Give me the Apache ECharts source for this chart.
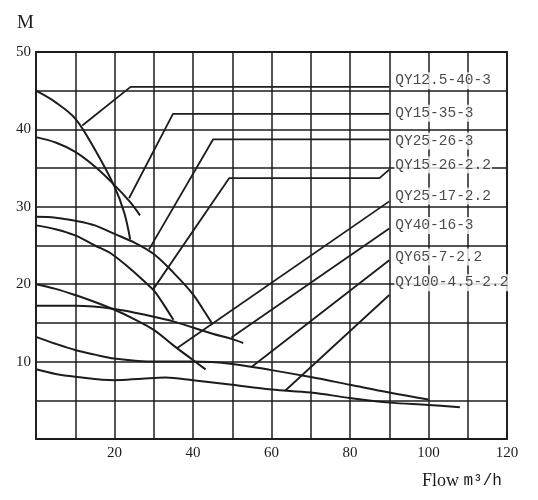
<!DOCTYPE html>
<html>
<head>
<meta charset="utf-8">
<title>QY pump curves</title>
<script src="https://cdn.jsdelivr.net/npm/echarts@6/dist/echarts.min.js"></script>
<style>
  html, body { margin: 0; padding: 0; background: #fff; }
  #chart { width: 538px; height: 500px; }
</style>
</head>
<body>
<div id="chart"></div>
<script>
// pump models, top to bottom
const models = ['QY12.5-40-3', 'QY15-35-3', 'QY25-26-3', 'QY15-26-2.2',
                'QY25-17-2.2', 'QY40-16-3', 'QY65-7-2.2', 'QY100-4.5-2.2'];

// Q-H curves: [flow m3/h, head m]
const curve1 = [[0, 45], [5, 43.5], [10, 41.4], [15, 37.4], [20, 32.6], [22.5, 29.2], [24, 25.8]];
const curve2 = [[0, 39], [5, 38.3], [10, 37.1], [15, 35.2], [20, 32.8], [24, 30.6], [26.5, 28.9]];
const curve3 = [[0, 28.7], [5, 28.6], [10, 28.2], [15, 27.6], [20, 26.5], [25, 25.4], [30, 23.9],
                [35, 21.5], [40, 18.7], [43, 16.4], [45, 14.8]];
const curve4 = [[0, 27.6], [5, 27.1], [10, 26.3], [15, 25.0], [19, 24.0], [24, 22.0], [27.3, 20.5],
                [30, 19.2], [32.5, 17.4], [35, 15.4]];
const curve5 = [[0, 20], [5, 19.4], [10, 18.6], [15, 17.7], [20, 16.7], [25, 15.5], [30, 14.1],
                [35, 12.1], [40, 10.2], [43.2, 9.0]];
const curve6 = [[0, 17.2], [10, 17.2], [20, 16.8], [30, 15.8], [35, 15.2], [40, 14.4], [45, 13.6],
                [50, 12.9], [52.8, 12.4]];
const curve7 = [[0, 13.2], [5, 12.3], [10, 11.5], [15, 10.9], [20, 10.4], [30, 10.0], [40, 10.0],
                [50, 9.7], [60, 8.9], [70, 8.0], [80, 7.0], [90, 6.0], [100, 5.1]];
const curve8 = [[0, 9.0], [5, 8.4], [10, 8.05], [20, 7.6], [27, 7.8], [33, 7.95], [40, 7.6],
                [50, 7.0], [60, 6.4], [70, 6.0], [80, 5.3], [90, 4.7], [100, 4.4], [108, 4.1]];

// leader lines from each curve to its label
const leader1 = [[11.8, 40.5], [24.1, 45.5], [90, 45.5]];
const leader2 = [[23.7, 31.1], [34.9, 42.0], [90, 42.0]];
const leader3 = [[28.8, 24.5], [45.1, 38.7], [90, 38.7]];
const leader4 = [[29.8, 19.3], [49.2, 33.7], [87.5, 33.7], [90, 34.8]];
const leader5 = [[35.8, 11.7], [90, 30.7]];
const leader6 = [[49.8, 13.1], [90, 27.2]];
const leader7 = [[54.9, 9.3], [90, 23.1]];
const leader8 = [[63.4, 6.2], [90, 18.6]];

// label anchor heads (at flow 90)
const labelFlow = 90;
const labelHeads = [46.3, 42.1, 38.5, 35.4, 31.4, 27.6, 23.5, 20.2];

// axis tick labels
const flowTicks = [20, 40, 60, 80, 100, 120];
const headTicks = [10, 20, 30, 40, 50];

const curves = [curve1, curve2, curve3, curve4, curve5, curve6, curve7, curve8];
const leaders = [leader1, leader2, leader3, leader4, leader5, leader6, leader7, leader8];

const ink = '#1c1c1c';
const serif = 'Liberation Serif';
const mono = 'Liberation Mono';

const chart = echarts.init(document.getElementById('chart'));

const series = [];
curves.forEach((c, i) => {
  series.push({
    name: models[i],
    type: 'line',
    data: c,
    smooth: 0.35,
    symbol: 'none',
    lineStyle: { color: ink, width: 2 },
    z: 3
  });
});
leaders.forEach((l, i) => {
  series.push({
    name: models[i] + ' leader',
    type: 'line',
    data: l,
    symbol: 'none',
    lineStyle: { color: ink, width: 1.8 },
    z: 3
  });
});
// model names sit on white boxes that hide the grid under them
series.push({
  name: 'labels',
  type: 'scatter',
  symbolSize: 0,
  zlevel: 1,
  data: labelHeads.map((h, i) => ({ value: [labelFlow, h], name: models[i] })),
  label: {
    show: true,
    position: 'right',
    distance: 5,
    formatter: p => '{t|' + p.name + '}',
    rich: {
      t: {
        fontFamily: mono,
        fontSize: 14.5,
        color: ink,
        backgroundColor: '#fff',
        padding: [1, 1],
        lineHeight: 15
      }
    }
  }
});

const option = {
  animation: false,
  backgroundColor: '#fff',
  title: [
    {
      text: 'M',
      left: 12,
      top: 9,
      textStyle: { fontFamily: serif, fontSize: 19, fontWeight: 'normal', color: ink }
    },
    {
      text: '{a|Flow }{b|m³/h}',
      left: 417,
      top: 467,
      textStyle: {
        fontWeight: 'normal',
        rich: {
          a: { fontFamily: serif, fontSize: 18, fontWeight: 'normal', color: ink },
          b: { fontFamily: mono, fontSize: 16, fontWeight: 'normal', color: ink }
        }
      }
    }
  ],
  grid: {
    left: 36,
    right: 31,
    top: 52,
    bottom: 61,
    show: true,
    borderColor: ink,
    borderWidth: 1.8,
    outerBoundsMode: 'none'
  },
  xAxis: {
    type: 'value',
    min: 0,
    max: 120,
    interval: 10,
    axisLine: { show: false },
    axisTick: { show: false },
    splitLine: { show: true, lineStyle: { color: ink, width: 1.5 } },
    axisLabel: {
      margin: 7,
      fontFamily: serif,
      fontSize: 15,
      color: ink,
      formatter: v => (flowTicks.includes(v) ? String(v) : '')
    }
  },
  yAxis: {
    type: 'value',
    min: 0,
    max: 50,
    interval: 5,
    axisLine: { show: false },
    axisTick: { show: false },
    splitLine: { show: true, lineStyle: { color: ink, width: 1.5 } },
    axisLabel: {
      margin: 5,
      fontFamily: serif,
      fontSize: 15,
      color: ink,
      formatter: v => (headTicks.includes(v) ? String(v) : '')
    }
  },
  series: series
};

chart.setOption(option);
</script>
</body>
</html>
